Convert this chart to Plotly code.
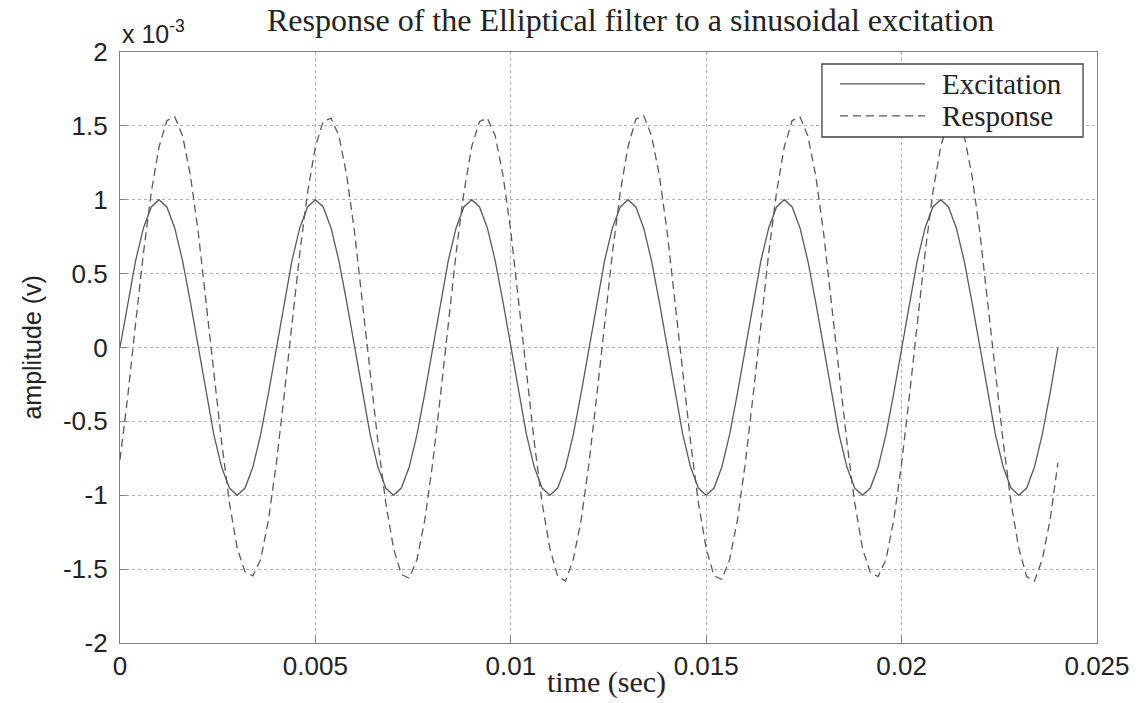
import plotly.graph_objects as go

# ---------------- data (amplitudes in units of 1e-3 V) ----------------
sample_period = 0.0002  # s
excitation = [
    0.000, 0.309, 0.588, 0.809, 0.951, 1.000, 0.951, 0.809, 0.588, 0.309,
    0.000, -0.309, -0.588, -0.809, -0.951, -1.000, -0.951, -0.809, -0.588, -0.309,
    0.000, 0.309, 0.588, 0.809, 0.951, 1.000, 0.951, 0.809, 0.588, 0.309,
    0.000, -0.309, -0.588, -0.809, -0.951, -1.000, -0.951, -0.809, -0.588, -0.309,
    0.000, 0.309, 0.588, 0.809, 0.951, 1.000, 0.951, 0.809, 0.588, 0.309,
    0.000, -0.309, -0.588, -0.809, -0.951, -1.000, -0.951, -0.809, -0.588, -0.309,
    0.000, 0.309, 0.588, 0.809, 0.951, 1.000, 0.951, 0.809, 0.588, 0.309,
    0.000, -0.309, -0.588, -0.809, -0.951, -1.000, -0.951, -0.809, -0.588, -0.309,
    0.000, 0.309, 0.588, 0.809, 0.951, 1.000, 0.951, 0.809, 0.588, 0.309,
    0.000, -0.309, -0.588, -0.809, -0.951, -1.000, -0.951, -0.809, -0.588, -0.309,
    0.000, 0.309, 0.588, 0.809, 0.951, 1.000, 0.951, 0.809, 0.588, 0.309,
    0.000, -0.309, -0.588, -0.809, -0.951, -1.000, -0.951, -0.809, -0.588, -0.309,
    0.000,
]
response = [
    -0.760, -0.326, 0.164, 0.639, 1.050, 1.360, 1.536, 1.561, 1.434, 1.167,
    0.785, 0.326, -0.164, -0.639, -1.050, -1.360, -1.520, -1.545, -1.434, -1.167,
    -0.785, -0.326, 0.164, 0.639, 1.050, 1.360, 1.530, 1.552, 1.434, 1.167,
    0.785, 0.326, -0.164, -0.639, -1.050, -1.360, -1.536, -1.562, -1.434, -1.167,
    -0.785, -0.326, 0.164, 0.639, 1.050, 1.360, 1.530, 1.552, 1.434, 1.167,
    0.785, 0.326, -0.164, -0.639, -1.050, -1.360, -1.550, -1.580, -1.434, -1.167,
    -0.785, -0.326, 0.164, 0.639, 1.050, 1.360, 1.545, 1.570, 1.434, 1.167,
    0.785, 0.326, -0.164, -0.639, -1.050, -1.360, -1.545, -1.570, -1.434, -1.167,
    -0.785, -0.326, 0.164, 0.639, 1.050, 1.360, 1.536, 1.561, 1.434, 1.167,
    0.785, 0.326, -0.164, -0.639, -1.050, -1.360, -1.525, -1.550, -1.434, -1.167,
    -0.785, -0.326, 0.164, 0.639, 1.050, 1.360, 1.536, 1.561, 1.434, 1.167,
    0.785, 0.326, -0.164, -0.639, -1.050, -1.360, -1.550, -1.580, -1.434, -1.167,
    -0.780,
]
time = [round(k * sample_period, 4) for k in range(len(excitation))]

series_names = ["Excitation", "Response"]
x_ticks = [0, 0.005, 0.01, 0.015, 0.02, 0.025]
x_tick_labels = ["0", "0.005", "0.01", "0.015", "0.02", "0.025"]
y_ticks = [-2, -1.5, -1, -0.5, 0, 0.5, 1, 1.5, 2]
y_tick_labels = ["-2", "-1.5", "-1", "-0.5", "0", "0.5", "1", "1.5", "2"]

# ---------------- figure ----------------
SERIF = "Liberation Serif, Times New Roman, serif"
SANS = "Liberation Sans, Arial, sans-serif"
LINE_COLOR = "#5a5a5a"
DASH = "8px,5px"

fig = go.Figure()
fig.add_trace(go.Scatter(
    x=time, y=excitation, mode="lines", name=series_names[0], showlegend=False,
    line=dict(color=LINE_COLOR, width=1.3),
))
fig.add_trace(go.Scatter(
    x=time, y=response, mode="lines", name=series_names[1], showlegend=False,
    line=dict(color=LINE_COLOR, width=1.3, dash=DASH),
))

axis_common = dict(
    showline=True, mirror=True, linecolor="#808080", linewidth=1.2,
    ticks="inside", ticklen=7, tickcolor="#808080",
    showgrid=True, gridcolor="#b0b0b0", griddash="dot", gridwidth=1,
    zeroline=False, automargin=False,
    tickfont=dict(family=SANS, size=26, color="#222"),
)

# legend box (MATLAB style) drawn in paper coordinates
leg_x0, leg_x1, leg_y0, leg_y1 = 0.7185, 0.9857, 0.8562, 0.9797
sample_x0, sample_x1, text_x = 0.737, 0.824, 0.8393
row_y = [0.946, 0.892]

shapes = [
    dict(type="rect", xref="paper", yref="paper", x0=leg_x0, x1=leg_x1, y0=leg_y0, y1=leg_y1,
         fillcolor="white", line=dict(color="#404040", width=1.3), layer="above"),
    dict(type="line", xref="paper", yref="paper", x0=sample_x0, x1=sample_x1, y0=row_y[0], y1=row_y[0],
         line=dict(color=LINE_COLOR, width=1.3), layer="above"),
    dict(type="line", xref="paper", yref="paper", x0=sample_x0, x1=sample_x1, y0=row_y[1], y1=row_y[1],
         line=dict(color=LINE_COLOR, width=1.3, dash=DASH), layer="above"),
]

annotations = [
    dict(text="Response of the Elliptical filter to a sinusoidal excitation",
         xref="paper", yref="paper", x=0.5225, y=1.054, xanchor="center", yanchor="middle",
         showarrow=False, font=dict(family=SERIF, size=32, color="#222")),
    dict(text="time (sec)", xref="paper", yref="paper", x=0.498, y=-0.066,
         xanchor="center", yanchor="middle", showarrow=False,
         font=dict(family=SERIF, size=30, color="#222")),
    dict(text="amplitude (v)", xref="paper", yref="paper", x=-0.091, y=0.5,
         xanchor="center", yanchor="middle", textangle=-90, showarrow=False,
         font=dict(family=SANS, size=25, color="#222")),
    dict(text="x 10<sup>-3</sup>", xref="paper", yref="paper", x=0.0, y=1.0,
         xanchor="left", yanchor="bottom", showarrow=False, yshift=2,
         font=dict(family=SANS, size=25, color="#222")),
]
for name, yy in zip(series_names, row_y):
    annotations.append(dict(text=name, xref="paper", yref="paper", x=text_x, y=yy,
                            xanchor="left", yanchor="middle", showarrow=False,
                            font=dict(family=SERIF, size=29, color="#222")))

fig.update_layout(
    width=1138, height=703,
    paper_bgcolor="white", plot_bgcolor="white",
    margin=dict(l=120, r=41, t=52, b=60, autoexpand=False),
    xaxis=dict(range=[0, 0.025], tickvals=x_ticks, ticktext=x_tick_labels, **axis_common),
    yaxis=dict(range=[-2, 2], tickvals=y_ticks, ticktext=y_tick_labels,
               ticklabelstandoff=6, **axis_common),
    showlegend=False,
    shapes=shapes,
    annotations=annotations,
)

fig.write_html(
    "out.html",
    config={"displayModeBar": False},
    post_script="document.body.style.margin='0px';document.body.style.overflow='hidden';",
)
